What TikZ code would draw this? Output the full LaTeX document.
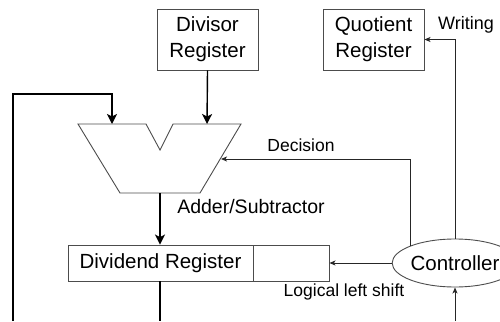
\documentclass[tikz,border=0pt]{standalone}
\usepackage{fontspec}
\setmainfont{Liberation Sans}
\usetikzlibrary{arrows.meta,shapes,positioning}
\tikzset{
    % standard arrow tip for the data path
    >={Stealth[length=10pt,width=10pt,inset=2.5pt]},
    datapil/.style={
           ->,
           line width=1.4pt,
           black,
           },
    styrpil/.style={
           -{Stealth[length=6pt,width=5pt,inset=1.5pt]},
           line width=0.9pt,
           black!85,
           },
    reg/.style={
           draw=black!70,
           line width=0.9pt,
           inner sep=0pt,
           align=center,
           font=\fontsize{20.5}{26}\selectfont,
           },
}

\begin{document}
\begin{tikzpicture}[x=1pt,y=-1pt]
  	\useasboundingbox (0,0) rectangle (500,321);
  	% registers
  	\node[reg, minimum width=101pt, minimum height=61pt] (divisor) at (207.5,39.5) {Divisor\\Register};
  	\node[reg, minimum width=101pt, minimum height=61pt] (quotient) at (373.5,39.5) {Quotient\\Register};
  	\node[reg, minimum width=185pt, minimum height=36pt] (dvd) at (160.5,263) {Dividend Register};
  	\node[reg, minimum width=76pt, minimum height=36pt] (dvdx) at (291,263) {};
  	\node[reg, ellipse, minimum width=114pt, minimum height=48pt] (ctrl) at (455,263) {Controller};
  	% adder/subtractor
  	\draw[black!70, line width=0.9pt] (78,124) -- (146,124) -- (160,150) -- (173,124) -- (241,124)
  		-- (200,193) -- (120,193) -- cycle;
  	\coordinate (inA) at (112,124);
  	\coordinate (inB) at (207,124);
  	\coordinate (sum) at (160,193);
  	\coordinate (dec) at (221,159);
  	\coordinate (fb) at (13,321);
  	\coordinate (fbtop) at (13,94);
  	\coordinate (dvdout) at (160,321);
  	\coordinate (ctrlin) at (455,321);
  	% labels
  	\node (writing) at (466,25) [font=\fontsize{18}{20}\selectfont] {Writing};
  	\node (decision) at (301,145) [font=\fontsize{17.5}{20}\selectfont] {Decision};
  	\node (addsub) at (251,207) [font=\fontsize{19.5}{22}\selectfont] {Adder/Subtractor};
  	\node (shift) at (344,292) [font=\fontsize{17.5}{20}\selectfont] {Logical left shift};
  	% data path
  	\draw [datapil] (fb) -- (fbtop) -| (inA);
  	\draw [datapil] (divisor.south) -- (inB);
  	\draw [datapil] (sum) -- (dvd.north -| sum);
  	\draw [line width=1.4pt] (dvd.south -| dvdout) -- (dvdout);
  	% control signals
  	\draw [styrpil] (ctrl.west) -- (dvdx.east);
  	\draw [styrpil] (ctrl.159) |- (dec);
  	\draw [styrpil] (ctrl.north) |- (quotient.east);
  	\draw [styrpil] (ctrlin) -- (ctrl.south);
\end{tikzpicture}
\end{document}
